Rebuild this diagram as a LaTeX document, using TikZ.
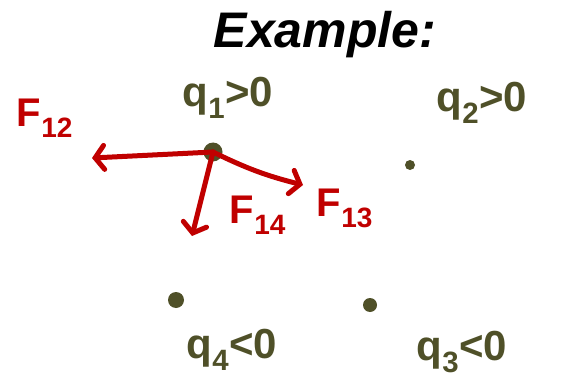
\documentclass[tikz,border=0pt]{standalone}
\usepackage{fontspec}
\setmainfont{Liberation Sans}
\usetikzlibrary{arrows.meta,positioning}
\definecolor{charge}{HTML}{4F5028}
\definecolor{force}{HTML}{C00000}
\tikzset{
  dot/.style={circle, fill=charge, inner sep=0pt, minimum size=16pt},
  qlabel/.style={text=charge, font=\fontsize{42}{44}\selectfont\bfseries},
  flabel/.style={text=force, font=\fontsize{40}{42}\selectfont\bfseries},
  farr/.style={-{Straight Barb[length=9pt,width=24pt,line cap=round]}, line width=5pt, line cap=round, draw=force}
}
\begin{document}
\begin{tikzpicture}[x=1pt,y=-1pt]
  \useasboundingbox (0,0) rectangle (562,385);
  \node[font=\fontsize{50}{54}\selectfont\bfseries\itshape] (title) at (325,35) {Example:};
  % charges
  \node[dot, minimum size=19pt] (q1) at (213,152) {};
  \node[dot, minimum size=10pt] (q2) at (410,165) {};
  \node[dot, minimum size=14pt] (q3) at (370,305) {};
  \node[dot] (q4) at (176,300) {};
  \node[qlabel] (l1) at (228,98) {q\textsubscript{1}>0};
  \node[qlabel] (l2) at (482,103) {q\textsubscript{2}>0};
  \node[qlabel] (l3) at (462,352) {q\textsubscript{3}<0};
  \node[qlabel] (l4) at (232,350) {q\textsubscript{4}<0};
  % forces on q1
  \coordinate (e12) at (92,158);
  \coordinate (e14) at (192,236);
  \coordinate (e13) at (303,185);
  \draw[farr] (q1.center) -- (e12);
  \draw[farr] (q1.center) -- (e14);
  \draw[farr] (q1.center) to[bend right=6] (e13);
  \node[flabel] (f12) at (45,118) {F\textsubscript{12}};
  \node[flabel] (f14) at (258,215) {F\textsubscript{14}};
  \node[flabel] (f13) at (345,208) {F\textsubscript{13}};
\end{tikzpicture}
\end{document}
